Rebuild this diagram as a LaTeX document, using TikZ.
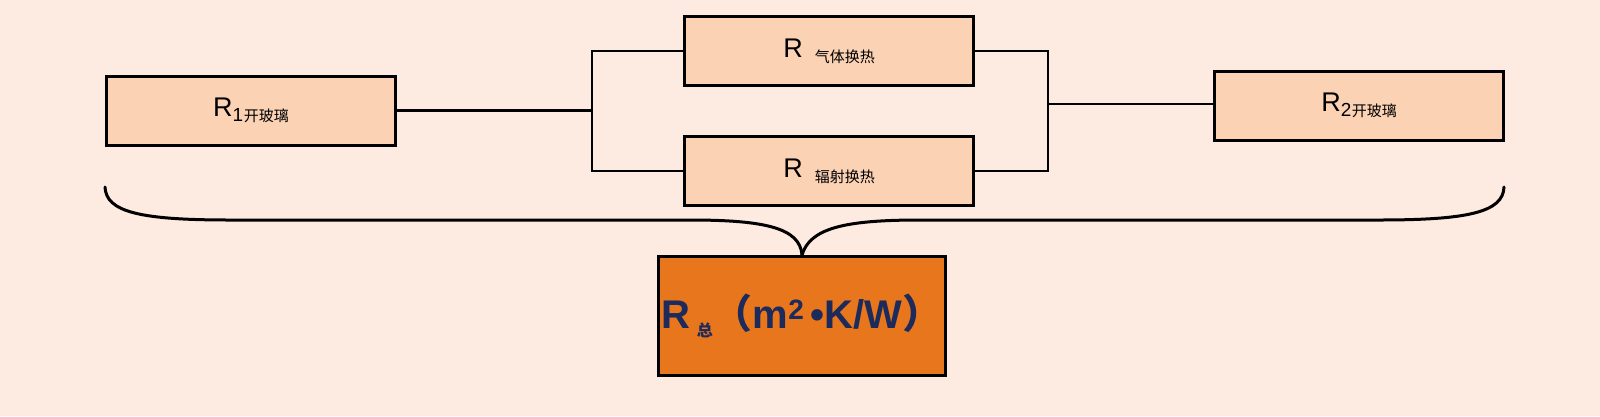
\documentclass[tikz,border=0pt]{standalone}
\usepackage{fontspec}
\setmainfont{Liberation Sans}
\newfontfamily\cjk{Noto Sans CJK SC}
\definecolor{bgcol}{HTML}{FDEBE1}
\definecolor{boxfill}{HTML}{FBD2B4}
\definecolor{totfill}{HTML}{E8761C}
\definecolor{navy}{HTML}{1C2A5C}
\newcommand{\sublbl}[1]{\raisebox{-5pt}{\cjk\fontsize{15}{15}\selectfont #1}}
\begin{document}
\begin{tikzpicture}[x=1pt,y=-1pt,
  box/.style={draw=black, line width=3pt, fill=boxfill, minimum width=289pt, minimum height=69pt, inner sep=0pt, font=\fontsize{27}{27}\selectfont},
  totbox/.style={draw=black, line width=3pt, fill=totfill, text width=287pt, minimum height=119pt, inner sep=0pt, align=center, text=navy, font=\fontsize{40}{40}\selectfont\bfseries},
  wire/.style={draw=black, line width=2.4pt},
  brace/.style={draw=black, line width=3pt, line cap=round}]
\fill[bgcol] (0,0) rectangle (1600,416);
\useasboundingbox (0,0) rectangle (1600,416);

\node[box] (r1) at (251,110.5) {R\textsubscript{1}\sublbl{开玻璃}};
\node[box] (rg) at (829,51) {R\hspace{12pt}\sublbl{气体换热}};
\node[box] (rf) at (829,171) {R\hspace{12pt}\sublbl{辐射换热}};
\node[box] (r2) at (1359,105.5) {R\textsubscript{2}\sublbl{开玻璃}};
\node[totbox] (rt) at (802,316) {R\hspace{6pt}\raisebox{-8pt}{\cjk\fontsize{16}{16}\selectfont 总}{\cjk （}m\textsuperscript{2}\hspace{6pt}•K/W{\cjk ）}};

\coordinate (jl) at (592,110.5);
\coordinate (jr) at (1048,104);
\draw[wire] (r1.east) -- (jl);
\draw[wire] (rg.west) -| (jl);
\draw[wire] (rf.west) -| (jl);
\draw[wire] (rg.east) -| (jr);
\draw[wire] (rf.east) -| (jr);
\draw[wire] (jr) -- (jr -| r2.west);

\coordinate (bl) at (105,187);
\coordinate (br) at (1504,187);
\coordinate (bt) at (rt.north);
\draw[brace] (bl) .. controls (106,212) and (140,220) .. (230,220) -- (690,220)
  .. controls (765,220) and (800,228) .. (bt);
\draw[brace] (br) .. controls (1503,212) and (1469,220) .. (1379,220) -- (920,220)
  .. controls (845,220) and (810,228) .. (bt);
\end{tikzpicture}
\end{document}
